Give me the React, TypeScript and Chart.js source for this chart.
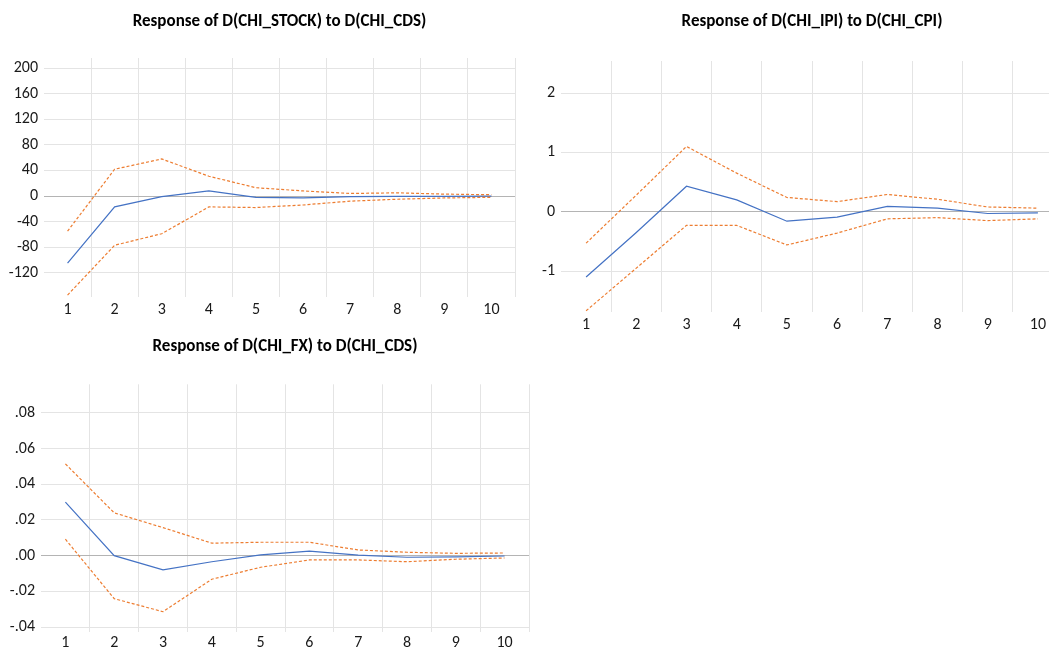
import React, { useEffect, useRef } from 'react';
import { Chart, registerables } from 'chart.js';

Chart.register(...registerables);

const horizons = ['1', '2', '3', '4', '5', '6', '7', '8', '9', '10'];

const stockResponse = [-105, -17, -1, 8, -2, -3, -1, -0.5, -0.5, 0];
const stockUpper = [-55, 42, 58, 31, 13, 8, 4, 5, 3, 2];
const stockLower = [-155, -77, -59, -17, -18, -14, -8, -5, -3, -2];
const stockTicks = [-120, -80, -40, 0, 40, 80, 120, 160, 200];
const stockTickLabels = ['-120', '-80', '-40', '0', '40', '80', '120', '160', '200'];

const ipiResponse = [-1.1, -0.35, 0.43, 0.2, -0.16, -0.09, 0.09, 0.06, -0.03, -0.02];
const ipiUpper = [-0.53, 0.28, 1.1, 0.65, 0.24, 0.17, 0.29, 0.21, 0.08, 0.06];
const ipiLower = [-1.67, -0.95, -0.23, -0.23, -0.56, -0.36, -0.12, -0.1, -0.15, -0.12];
const ipiTicks = [-1, 0, 1, 2];
const ipiTickLabels = ['-1', '0', '1', '2'];

const fxResponse = [0.03, 0.0, -0.008, -0.0034, 0.0004, 0.0025, 0.0003, -0.0009, -0.0007, -0.0002];
const fxUpper = [0.0514, 0.024, 0.0157, 0.007, 0.0075, 0.0075, 0.0032, 0.0019, 0.0013, 0.0015];
const fxLower = [0.0092, -0.0241, -0.0314, -0.0132, -0.0065, -0.0024, -0.0024, -0.0034, -0.002, -0.0013];
const fxTicks = [-0.04, -0.02, 0, 0.02, 0.04, 0.06, 0.08];
const fxTickLabels = ['-.04', '-.02', '.00', '.02', '.04', '.06', '.08'];

const FONT = 'Carlito, Lato, "Open Sans", sans-serif';
const TITLE_SIZE = 17;
const TICK_SIZE = 16;

type PanelProps = {
  title: string;
  response: number[];
  upper: number[];
  lower: number[];
  ticks: number[];
  tickLabels: string[];
  yMin: number;
  yMax: number;
  left: number;
  top: number;
  width: number;
  height: number;
  yAxisW: number;
  padRight: number;
  titleTop: number;
  titleBottom: number;
  xAxisH: number;
  xPad: number;
};

function Panel(p: PanelProps) {
  const ref = useRef<HTMLCanvasElement | null>(null);
  useEffect(() => {
    if (!ref.current) return;
    const n = horizons.length;
    const chart = new Chart(ref.current, {
      type: 'line',
      data: {
        labels: horizons,
        datasets: [
          { data: p.upper, borderColor: '#ED7D31', borderWidth: 1.2, borderDash: [3, 2], pointRadius: 0, tension: 0, fill: false },
          { data: p.lower, borderColor: '#ED7D31', borderWidth: 1.2, borderDash: [3, 2], pointRadius: 0, tension: 0, fill: false },
          { data: p.response, borderColor: '#4472C4', borderWidth: 1.2, pointRadius: 0, tension: 0, fill: false },
        ],
      },
      options: {
        responsive: false,
        maintainAspectRatio: false,
        animation: false,
        layout: { padding: { left: 0, right: p.padRight, top: 0, bottom: 0 } },
        plugins: {
          legend: { display: false },
          tooltip: { enabled: false },
          title: {
            display: true,
            text: p.title,
            fullSize: false,
            color: '#000',
            font: { family: FONT, size: TITLE_SIZE, weight: 'bold', lineHeight: 1.2 },
            padding: { top: p.titleTop, bottom: p.titleBottom },
          },
        },
        scales: {
          x: {
            type: 'category',
            offset: true,
            grid: {
              offset: true,
              drawTicks: false,
              lineWidth: 1,
              color: (ctx: any) => (ctx.index === 0 || ctx.index >= n ? 'rgba(0,0,0,0)' : '#e4e4e4'),
            },
            border: { display: false },
            ticks: { padding: p.xPad, color: '#1a1a1a', font: { family: FONT, size: TICK_SIZE, lineHeight: 1.2 }, maxRotation: 0, autoSkip: false },
            afterFit: (s: any) => { s.height = p.xAxisH; },
          },
          y: {
            min: p.yMin,
            max: p.yMax,
            grid: {
              drawTicks: false,
              lineWidth: 1,
              color: (ctx: any) => (ctx.tick && Math.abs(ctx.tick.value) < 1e-12 ? '#b4b4b4' : '#e4e4e4'),
            },
            border: { display: false },
            ticks: {
              padding: 6,
              color: '#1a1a1a',
              font: { family: FONT, size: TICK_SIZE, lineHeight: 1.2 },
              callback: (v: any) => {
                const i = p.ticks.findIndex((t) => Math.abs(t - Number(v)) < 1e-9);
                return i >= 0 ? p.tickLabels[i] : '';
              },
            },
            afterBuildTicks: (s: any) => { s.ticks = p.ticks.map((v) => ({ value: v })); },
            afterFit: (s: any) => { s.width = p.yAxisW; },
          },
        },
      } as any,
    });
    return () => chart.destroy();
  }, []);
  return (
    <canvas
      ref={ref}
      width={p.width}
      height={p.height}
      style={{ position: 'absolute', left: p.left, top: p.top, width: p.width, height: p.height }}
    />
  );
}

export default function App() {
  return (
    <div style={{ position: 'fixed', left: 0, top: 0, width: 1049, height: 650, overflow: 'hidden', background: '#fff' }}>
      <Panel
        title="Response of D(CHI_STOCK) to D(CHI_CDS)"
        response={stockResponse}
        upper={stockUpper}
        lower={stockLower}
        ticks={stockTicks}
        tickLabels={stockTickLabels}
        yMin={-158}
        yMax={216}
        left={0}
        top={0}
        width={530}
        height={325}
        yAxisW={44}
        padRight={15}
        titleTop={11.8}
        titleBottom={25.8}
        xAxisH={28}
        xPad={3.4}
      />
      <Panel
        title="Response of D(CHI_IPI) to D(CHI_CPI)"
        response={ipiResponse}
        upper={ipiUpper}
        lower={ipiLower}
        ticks={ipiTicks}
        tickLabels={ipiTickLabels}
        yMin={-1.69}
        yMax={2.54}
        left={530}
        top={0}
        width={545}
        height={340}
        yAxisW={31}
        padRight={12}
        titleTop={11.8}
        titleBottom={28.8}
        xAxisH={28}
        xPad={3.4}
      />
      <Panel
        title="Response of D(CHI_FX) to D(CHI_CDS)"
        response={fxResponse}
        upper={fxUpper}
        lower={fxLower}
        ticks={fxTicks}
        tickLabels={fxTickLabels}
        yMin={-0.0426}
        yMax={0.096}
        left={0}
        top={320}
        width={530}
        height={330}
        yAxisW={41}
        padRight={1}
        titleTop={16.8}
        titleBottom={27.1}
        xAxisH={18.3}
        xPad={1.7}
      />
    </div>
  );
}
